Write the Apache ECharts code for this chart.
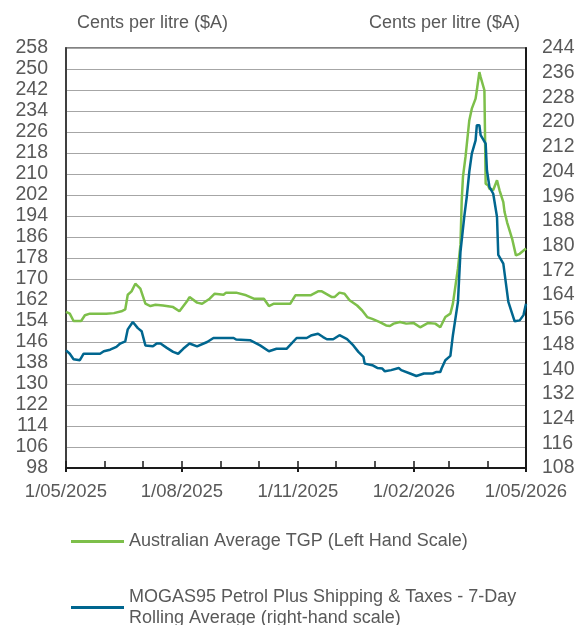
<!DOCTYPE html>
<html>
<head>
<meta charset="utf-8">
<script src="https://cdn.jsdelivr.net/npm/echarts@6/dist/echarts.min.js"></script>
<style>
html,body{margin:0;padding:0;background:#fff;}
#chart{width:582px;height:625px;}
</style>
</head>
<body>
<div id="chart"></div>
<script>
// ---- Data ----
const tgpName = 'Australian Average TGP (Left Hand Scale)';
const mogasName = 'MOGAS95 Petrol Plus Shipping & Taxes - 7-Day Rolling Average (right-hand scale)';

const tgpDates = ['2025-05-01','2025-05-04','2025-05-07','2025-05-13','2025-05-16','2025-05-20','2025-05-28','2025-06-02','2025-06-08','2025-06-14','2025-06-17','2025-06-19','2025-06-22','2025-06-25','2025-06-29','2025-07-03','2025-07-07','2025-07-11','2025-07-17','2025-07-25','2025-07-30','2025-08-05','2025-08-07','2025-08-13','2025-08-17','2025-08-23','2025-08-27','2025-09-03','2025-09-05','2025-09-13','2025-09-21','2025-09-27','2025-10-05','2025-10-09','2025-10-13','2025-10-26','2025-10-30','2025-11-11','2025-11-17','2025-11-20','2025-11-28','2025-11-30','2025-12-04','2025-12-08','2025-12-12','2025-12-18','2025-12-22','2025-12-26','2025-12-30','2026-01-05','2026-01-10','2026-01-13','2026-01-16','2026-01-21','2026-01-26','2026-02-01','2026-02-06','2026-02-12','2026-02-18','2026-02-22','2026-02-26','2026-03-02','2026-03-04','2026-03-07','2026-03-08','2026-03-10','2026-03-11','2026-03-12','2026-03-14','2026-03-17','2026-03-19','2026-03-22','2026-03-23','2026-03-25','2026-03-26','2026-03-29','2026-03-30','2026-04-01','2026-04-02','2026-04-05','2026-04-08','2026-04-10','2026-04-13','2026-04-14','2026-04-16','2026-04-20','2026-04-23','2026-04-26','2026-05-01'];
const tgpValues = [157.5,156.8,154,154,156.2,156.8,156.8,156.8,157,157.7,158.4,164,165.3,168.2,166.3,160.6,159.7,160.2,159.9,159.3,157.7,161.5,163.1,161,160.6,162.5,164.4,164,164.8,164.8,163.8,162.5,162.5,159.7,160.6,160.6,163.8,163.8,165.3,165.3,163.1,163.1,164.8,164.4,161.9,159.9,158,155.5,154.8,153.6,152.3,152.1,153,153.6,153,153.2,151.6,153.2,153,151.6,155.5,156.8,160.6,170.7,174,183,200,209,216.5,230.4,234.9,238.7,241.9,248.8,246.9,241.9,206.3,205.6,204.4,203.9,207.6,203.8,199.3,195.5,191.6,185.3,179,179.6,181.6];

const mogasDates = ['2025-05-01','2025-05-04','2025-05-07','2025-05-12','2025-05-15','2025-05-28','2025-05-31','2025-06-05','2025-06-10','2025-06-13','2025-06-17','2025-06-19','2025-06-23','2025-06-27','2025-06-30','2025-07-03','2025-07-04','2025-07-09','2025-07-12','2025-07-15','2025-07-20','2025-07-25','2025-07-29','2025-08-02','2025-08-07','2025-08-13','2025-08-21','2025-08-26','2025-09-11','2025-09-13','2025-09-24','2025-10-02','2025-10-09','2025-10-15','2025-10-23','2025-10-31','2025-11-08','2025-11-12','2025-11-17','2025-11-21','2025-11-24','2025-11-29','2025-12-04','2025-12-10','2025-12-15','2025-12-19','2025-12-23','2025-12-24','2025-12-30','2026-01-03','2026-01-07','2026-01-09','2026-01-14','2026-01-20','2026-01-22','2026-01-29','2026-02-03','2026-02-09','2026-02-16','2026-02-19','2026-02-22','2026-02-23','2026-02-26','2026-03-02','2026-03-04','2026-03-08','2026-03-10','2026-03-13','2026-03-15','2026-03-17','2026-03-19','2026-03-22','2026-03-23','2026-03-25','2026-03-26','2026-03-30','2026-03-31','2026-04-02','2026-04-05','2026-04-08','2026-04-09','2026-04-13','2026-04-17','2026-04-20','2026-04-22','2026-04-26','2026-04-29','2026-05-01'];
const mogasValues = [146.1,145,143.2,142.9,145,145,145.8,146.3,147.2,148.3,149,152.9,155.3,153.3,152.3,147.7,147.4,147.4,148.3,148.3,146.9,145.6,145,146.6,148.3,147.4,148.8,150.1,150.1,149.6,149.4,147.7,145.8,146.6,146.6,150.1,150.1,151,151.5,150.4,149.7,149.7,151,149.7,147.7,145.6,144,141.8,141.3,140.4,140.2,139.3,139.7,140.4,139.7,138.6,137.8,138.6,138.6,139.1,139.1,140.2,142.9,144.3,151,161.8,178,189.3,195.8,203.9,209.8,214.1,219,219,215.8,213,204.4,199,196.8,189.3,177,174.2,161.8,158,155.5,155.8,157.5,161.2];

const leftTicks = [98,106,114,122,130,138,146,154,162,170,178,186,194,202,210,218,226,234,242,250,258];
const rightTicks = [108,116,124,132,140,148,156,164,172,180,188,196,204,212,220,228,236,244];
const xLabelDates = ['2025-05-01','2025-08-01','2025-11-01','2026-02-01','2026-05-01'];
const xMonthTicks = ['2025-05-01','2025-06-01','2025-07-01','2025-08-01','2025-09-01','2025-10-01','2025-11-01','2025-12-01','2026-01-01','2026-02-01','2026-03-01','2026-04-01','2026-05-01'];
const yAxisTitle = 'Cents per litre ($A)';

// ---- Build ----
function ts(s){ const p = s.split('-').map(Number); return Date.UTC(p[0], p[1]-1, p[2]); }
function fmt(v){ const d = new Date(v); return d.getUTCDate() + '/' + String(d.getUTCMonth()+1).padStart(2,'0') + '/' + d.getUTCFullYear(); }

const FONT = '"Liberation Sans", Arial, sans-serif';
const GREY = '#595959';
const GREEN = '#7DBF4A';
const BLUE = '#00668F';

const xMin = ts(xLabelDates[0]);
const xMax = ts(xLabelDates[xLabelDates.length-1]);

const chart = echarts.init(document.getElementById('chart'), null, {renderer:'canvas'});
chart.setOption({
  animation: false,
  textStyle: {fontFamily: FONT},
  title: [
    {text: yAxisTitle, left: 72, top: 9, textStyle: {fontSize: 18, fontWeight: 'normal', color: GREY, fontFamily: FONT}},
    {text: yAxisTitle, right: 57, top: 9, textStyle: {fontSize: 18, fontWeight: 'normal', color: GREY, fontFamily: FONT}}
  ],
  grid: {left: 66, right: 56, top: 48, bottom: 157, show: true, borderColor: '#595959', borderWidth: 1.5, containLabel: false},
  legend: [
    {data: [tgpName], orient: 'vertical', left: 66, top: 526, icon: 'rect', itemWidth: 53, itemHeight: 3,
     textStyle: {fontSize: 18, color: GREY, fontFamily: FONT, lineHeight: 21}},
    {data: [mogasName], orient: 'vertical', left: 66, top: 571, icon: 'rect', itemWidth: 53, itemHeight: 3,
     formatter: n => n.replace(' Rolling', '\nRolling'),
     textStyle: {fontSize: 18, color: GREY, fontFamily: FONT, lineHeight: 21, padding: [21,0,0,0]}}
  ],
  xAxis: [
    {type: 'value', position: 'bottom', min: xMin, max: xMax,
     axisLine: {show: true, onZero: false, lineStyle: {color: '#1a1a1a', width: 2}},
     axisTick: {show: true, inside: false, length: 4, customValues: xLabelDates.map(ts), lineStyle: {color: '#1a1a1a', width: 2}},
     axisLabel: {customValues: xLabelDates.map(ts), formatter: fmt, fontSize: 18.5, color: GREY, margin: 14, fontFamily: FONT, hideOverlap: false},
     splitLine: {show: false}},
    {type: 'value', position: 'bottom', min: xMin, max: xMax,
     axisLine: {show: false, onZero: false},
     axisTick: {show: true, inside: true, length: 7, customValues: xMonthTicks.map(ts), lineStyle: {color: '#1a1a1a', width: 1.5}},
     axisLabel: {show: false},
     splitLine: {show: false}}
  ],
  yAxis: [
    {type: 'value', position: 'left', min: 98, max: 258,
     axisLine: {show: true, lineStyle: {color: '#404040', width: 2}},
     axisTick: {show: false, customValues: leftTicks},
     axisLabel: {customValues: leftTicks, fontSize: 19.5, color: GREY, margin: 18, fontFamily: FONT},
     splitLine: {show: true, lineStyle: {color: '#a6a6a6', width: 1.2}}},
    {type: 'value', position: 'right', min: 108, max: 244,
     axisLine: {show: true, lineStyle: {color: '#1a1a1a', width: 2}},
     axisTick: {show: false, customValues: rightTicks},
     axisLabel: {customValues: rightTicks, fontSize: 19.5, color: GREY, margin: 16, fontFamily: FONT},
     splitLine: {show: false}}
  ],
  series: [
    {name: tgpName, type: 'line', xAxisIndex: 0, yAxisIndex: 0, showSymbol: false, symbol: 'none',
     data: tgpDates.map((d,i) => [ts(d), tgpValues[i]]),
     lineStyle: {color: GREEN, width: 2.5}, itemStyle: {color: GREEN}, z: 2},
    {name: mogasName, type: 'line', xAxisIndex: 0, yAxisIndex: 1, showSymbol: false, symbol: 'none',
     data: mogasDates.map((d,i) => [ts(d), mogasValues[i]]),
     lineStyle: {color: BLUE, width: 2.5}, itemStyle: {color: BLUE}, z: 3}
  ]
});
</script>
</body>
</html>
